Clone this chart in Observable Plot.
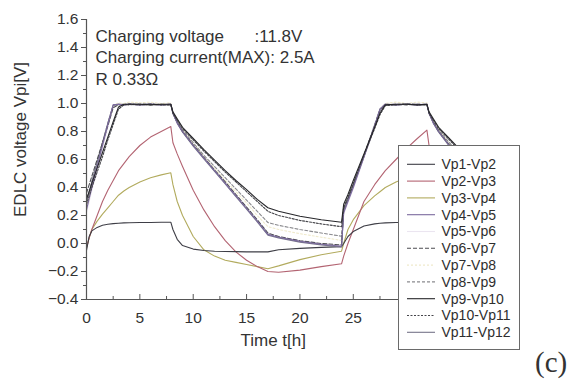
<!DOCTYPE html>
<html>
<head>
<meta charset="utf-8">
<script src="https://cdn.jsdelivr.net/npm/d3@7"></script>
<script src="https://cdn.jsdelivr.net/npm/@observablehq/plot@0.6"></script>
<style>
  body { margin: 0; background: #fff; }
  #wrap { position: relative; width: 577px; height: 385px; overflow: hidden; background: #fff; }
  #wrap svg { display: block; }
  #legend { position: absolute; left: 398px; top: 145px; }
  #tag { position: absolute; left: 535px; top: 348px; font-family: "Liberation Serif", "DejaVu Serif", serif; font-size: 29px; line-height: 1; color: #333; }
</style>
</head>
<body>
<div id="wrap"><div id="tag">(c)</div></div>
<script>
// ---- data ----
const times = [0, 0.25, 0.5, 1, 1.5, 2, 2.5, 3, 3.5, 4,
  5, 6, 7, 7.9, 8.1, 8.5, 9, 10, 11, 12,
  13, 14, 15, 16, 17, 18, 20, 22, 23.9, 24.1,
  24.5, 25, 26, 27, 27.5, 28, 29, 30, 31, 31.9,
  32.1, 32.5, 33, 34, 35];

const vp1_vp2 = [-0.05, 0.05, 0.09, 0.115, 0.13, 0.138, 0.142, 0.145, 0.147, 0.148,
  0.15, 0.15, 0.152, 0.152, 0.1, 0.03, -0.015, -0.04, -0.05, -0.055,
  -0.057, -0.058, -0.06, -0.06, -0.06, -0.045, -0.035, -0.028, -0.022, 0.0,
  0.05, 0.085, 0.125, 0.14, 0.145, 0.147, 0.15, 0.15, 0.15, 0.15,
  0.1, 0.03, -0.015, -0.04, -0.05];
const vp2_vp3 = [-0.03, 0.04, 0.1, 0.2, 0.3, 0.38, 0.45, 0.52, 0.57, 0.62,
  0.7, 0.76, 0.8, 0.835, 0.72, 0.64, 0.55, 0.38, 0.24, 0.12,
  0.02, -0.06, -0.12, -0.165, -0.2, -0.205, -0.19, -0.165, -0.145, -0.09,
  0.0, 0.1, 0.3, 0.42, 0.47, 0.52, 0.6, 0.68, 0.75, 0.81,
  0.7, 0.62, 0.53, 0.37, 0.23];
const vp3_vp4 = [-0.03, 0.04, 0.1, 0.16, 0.21, 0.255, 0.3, 0.345, 0.375, 0.4,
  0.44, 0.47, 0.49, 0.505, 0.42, 0.3, 0.2, 0.05, -0.045, -0.09,
  -0.12, -0.135, -0.15, -0.165, -0.18, -0.16, -0.115, -0.08, -0.055, 0.0,
  0.1, 0.17, 0.27, 0.34, 0.37, 0.4, 0.44, 0.47, 0.49, 0.5,
  0.42, 0.3, 0.2, 0.05, -0.045];
const vp4_vp5 = [0.24, 0.32, 0.4, 0.55, 0.7, 0.85, 0.99, 0.995, 0.99, 0.995,
  0.99, 0.995, 0.99, 0.995, 0.93, 0.86, 0.8, 0.7, 0.61, 0.52,
  0.43, 0.34, 0.25, 0.16, 0.065, 0.045, 0.015, -0.005, -0.02, 0.22,
  0.3, 0.4, 0.62, 0.84, 0.96, 0.995, 0.99, 0.995, 0.99, 0.995,
  0.93, 0.86, 0.8, 0.7, 0.61];
const vp5_vp6 = [0.22, 0.3, 0.38, 0.53, 0.68, 0.83, 0.975, 1.0, 0.995, 1.0,
  0.995, 1.0, 0.995, 1.0, 0.93, 0.865, 0.805, 0.705, 0.615, 0.525,
  0.435, 0.345, 0.255, 0.165, 0.07, 0.05, 0.02, 0.0, -0.015, 0.21,
  0.29, 0.39, 0.61, 0.83, 0.95, 0.995, 1.0, 0.995, 1.0, 0.995,
  0.93, 0.865, 0.805, 0.705, 0.615];
const vp6_vp7 = [0.36, 0.42, 0.48, 0.6, 0.72, 0.84, 0.97, 0.99, 0.995, 0.99,
  0.995, 0.99, 0.995, 0.99, 0.93, 0.865, 0.8, 0.705, 0.615, 0.525,
  0.44, 0.35, 0.26, 0.17, 0.075, 0.05, 0.02, 0.0, -0.01, 0.25,
  0.32, 0.42, 0.63, 0.84, 0.95, 0.99, 0.995, 0.99, 0.995, 0.99,
  0.93, 0.865, 0.8, 0.705, 0.615];
const vp7_vp8 = [0.26, 0.33, 0.41, 0.56, 0.71, 0.85, 0.985, 1.005, 1.0, 1.01,
  1.005, 1.01, 1.0, 1.005, 0.93, 0.87, 0.81, 0.715, 0.62, 0.535,
  0.45, 0.37, 0.29, 0.2, 0.12, 0.1, 0.07, 0.045, 0.022, 0.23,
  0.31, 0.41, 0.62, 0.84, 0.96, 1.0, 1.01, 1.0, 1.01, 1.005,
  0.93, 0.87, 0.81, 0.715, 0.62];
const vp8_vp9 = [0.3, 0.37, 0.44, 0.58, 0.72, 0.86, 0.985, 0.995, 0.99, 1.0,
  0.995, 1.0, 0.99, 0.995, 0.93, 0.87, 0.81, 0.72, 0.63, 0.55,
  0.47, 0.39, 0.31, 0.23, 0.15, 0.13, 0.1, 0.075, 0.052, 0.24,
  0.32, 0.42, 0.63, 0.85, 0.96, 0.995, 0.99, 1.0, 0.995, 0.995,
  0.93, 0.87, 0.81, 0.72, 0.63];
const vp9_vp10 = [0.32, 0.37, 0.43, 0.54, 0.65, 0.76, 0.87, 0.975, 0.995, 0.995,
  0.995, 0.99, 0.995, 0.995, 0.94, 0.89, 0.83, 0.75, 0.67, 0.595,
  0.52, 0.45, 0.385, 0.315, 0.255, 0.23, 0.195, 0.17, 0.152, 0.28,
  0.35, 0.45, 0.64, 0.83, 0.93, 0.99, 0.995, 0.995, 0.99, 0.995,
  0.94, 0.89, 0.83, 0.75, 0.67];
const vp10_vp11 = [0.28, 0.34, 0.4, 0.51, 0.62, 0.74, 0.85, 0.96, 0.99, 0.995,
  0.99, 0.995, 0.99, 0.99, 0.93, 0.88, 0.82, 0.74, 0.66, 0.585,
  0.51, 0.44, 0.37, 0.3, 0.23, 0.2, 0.165, 0.14, 0.12, 0.26,
  0.33, 0.43, 0.63, 0.82, 0.92, 0.985, 0.99, 0.995, 0.99, 0.99,
  0.93, 0.88, 0.82, 0.74, 0.66];
const vp11_vp12 = [0.3, 0.37, 0.44, 0.58, 0.72, 0.86, 0.99, 0.995, 0.99, 0.995,
  0.99, 0.995, 0.99, 0.995, 0.93, 0.86, 0.795, 0.695, 0.605, 0.515,
  0.425, 0.335, 0.245, 0.155, 0.06, 0.04, 0.01, -0.01, -0.025, 0.23,
  0.31, 0.41, 0.62, 0.84, 0.96, 0.995, 0.99, 0.995, 0.99, 0.995,
  0.93, 0.86, 0.795, 0.695, 0.605];

const seriesNames = ["Vp1-Vp2", "Vp2-Vp3", "Vp3-Vp4", "Vp4-Vp5", "Vp5-Vp6", "Vp6-Vp7",
  "Vp7-Vp8", "Vp8-Vp9", "Vp9-Vp10", "Vp10-Vp11", "Vp11-Vp12"];
const seriesValues = [vp1_vp2, vp2_vp3, vp3_vp4, vp4_vp5, vp5_vp6, vp6_vp7,
  vp7_vp8, vp8_vp9, vp9_vp10, vp10_vp11, vp11_vp12];

const yTicks = [-0.4, -0.2, 0.0, 0.2, 0.4, 0.6, 0.8, 1.0, 1.2, 1.4, 1.6];
const yMinorTicks = [-0.3, -0.1, 0.1, 0.3, 0.5, 0.7, 0.9, 1.1, 1.3, 1.5];
const xTicks = [0, 5, 10, 15, 20, 25, 30, 35];
const xTickLabels = [0, 5, 10, 15, 20, 25];
const xMinorTicks = [2.5, 7.5, 12.5, 17.5, 22.5, 27.5, 32.5];

const noteLines = ["Charging voltage", ":11.8V", "Charging current(MAX): 2.5A", "R 0.33Ω"];

// ---- styles (kept apart from data) ----
const styles = {
  "Vp1-Vp2":   {stroke: "#3e3e46", dash: null},
  "Vp2-Vp3":   {stroke: "#b36472", dash: null},
  "Vp3-Vp4":   {stroke: "#b2ab5e", dash: null},
  "Vp4-Vp5":   {stroke: "#7b6a9e", dash: null},
  "Vp5-Vp6":   {stroke: "#ebe5f0", dash: null},
  "Vp6-Vp7":   {stroke: "#4c4c52", dash: "4,2"},
  "Vp7-Vp8":   {stroke: "#efeacc", dash: "2,2"},
  "Vp8-Vp9":   {stroke: "#8a8a8e", dash: "3,2"},
  "Vp9-Vp10":  {stroke: "#26262a", dash: null},
  "Vp10-Vp11": {stroke: "#45454a", dash: "2,1.5"},
  "Vp11-Vp12": {stroke: "#76748a", dash: null}
};
const drawOrder = ["Vp5-Vp6", "Vp7-Vp8", "Vp3-Vp4", "Vp2-Vp3", "Vp1-Vp2", "Vp8-Vp9",
  "Vp11-Vp12", "Vp6-Vp7", "Vp4-Vp5", "Vp10-Vp11", "Vp9-Vp10"];

const W = 577, H = 385, mT = 19, mB = 86, mL = 86, mR = 117.5;
const frameH = H - mT - mB;

const tableFor = name => {
  const vals = seriesValues[seriesNames.indexOf(name)];
  return times.map((t, j) => ({t, v: vals[j], s: name}));
};

const axisColor = "#555";
const textColor = "#333";
const fmt = d3.format(".1f");

const lineMarks = drawOrder.map(name => Plot.line(tableFor(name), {
  x: "t", y: "v", stroke: styles[name].stroke, strokeWidth: 1.1,
  strokeDasharray: styles[name].dash ?? undefined
}));

const chart = Plot.plot({
  width: W, height: H,
  marginTop: mT, marginBottom: mB, marginLeft: mL, marginRight: mR,
  x: {domain: [0, 35], label: null},
  y: {domain: [-0.4, 1.6], label: null},
  style: {fontFamily: "'Liberation Sans', Arial, sans-serif", fontSize: "15.5px", color: textColor, background: "transparent", overflow: "visible"},
  marks: [
    ...lineMarks,
    Plot.ruleX([0], {stroke: axisColor, strokeWidth: 1.2}),
    Plot.ruleY([-0.4], {stroke: axisColor, strokeWidth: 1.2}),
    Plot.axisY({ticks: yTicks, tickSize: 5, tickPadding: 3, tickFormat: fmt, stroke: axisColor, fill: textColor}),
    Plot.axisY({ticks: yMinorTicks, tickSize: 3, tickFormat: () => "", stroke: axisColor}),
    Plot.axisX({ticks: xTickLabels, tickSize: 0, tickPadding: 12, tickFormat: d3.format("d"), fill: textColor}),
    Plot.tickX(xTicks, {x: d => d, insetTop: frameH - 5, stroke: axisColor}),
    Plot.tickX(xMinorTicks, {x: d => d, insetTop: frameH - 3, stroke: axisColor}),
    Plot.text(["EDLC voltage Vpi[V]"], {frameAnchor: "left", textAnchor: "middle", lineAnchor: "middle", dx: -66, dy: -20, rotate: -90, fontSize: 17, fill: textColor}),
    Plot.text(["Time t[h]"], {frameAnchor: "bottom", textAnchor: "middle", dy: 46, fontSize: 17, fill: textColor}),
    Plot.text([noteLines[0]], {frameAnchor: "top-left", textAnchor: "start", dx: 9, dy: 10, fontSize: 17, fill: textColor}),
    Plot.text([noteLines[1]], {frameAnchor: "top-left", textAnchor: "start", dx: 168, dy: 10, fontSize: 17, fill: textColor}),
    Plot.text([noteLines[2]], {frameAnchor: "top-left", textAnchor: "start", dx: 9, dy: 31, fontSize: 17, fill: textColor}),
    Plot.text([noteLines[3]], {frameAnchor: "top-left", textAnchor: "start", dx: 9, dy: 53, fontSize: 17, fill: textColor})
  ]
});

const wrap = document.getElementById("wrap");
wrap.insertBefore(chart, wrap.firstChild);

// ---- legend (boxed, drawn over the plot) ----
const LW = 122, LH = 205;
const leg = d3.create("svg").attr("id", "legend").attr("width", LW).attr("height", LH);
leg.append("rect").attr("x", 0.5).attr("y", 0.5).attr("width", LW - 1).attr("height", LH - 1)
  .attr("fill", "#fff").attr("stroke", "#6a6a6a").attr("stroke-width", 1);
seriesNames.forEach((name, i) => {
  const cy = 19.3 + 16.8 * i;
  leg.append("line").attr("x1", 9).attr("x2", 37).attr("y1", cy).attr("y2", cy)
    .attr("stroke", styles[name].stroke).attr("stroke-width", 1.1)
    .attr("stroke-dasharray", styles[name].dash);
  leg.append("text").attr("x", 43.5).attr("y", cy).attr("dy", "0.35em")
    .attr("font-family", "'Liberation Sans', Arial, sans-serif").attr("font-size", 14)
    .attr("fill", "#2e2e2e").text(name);
});
wrap.appendChild(leg.node());
</script>
</body>
</html>
